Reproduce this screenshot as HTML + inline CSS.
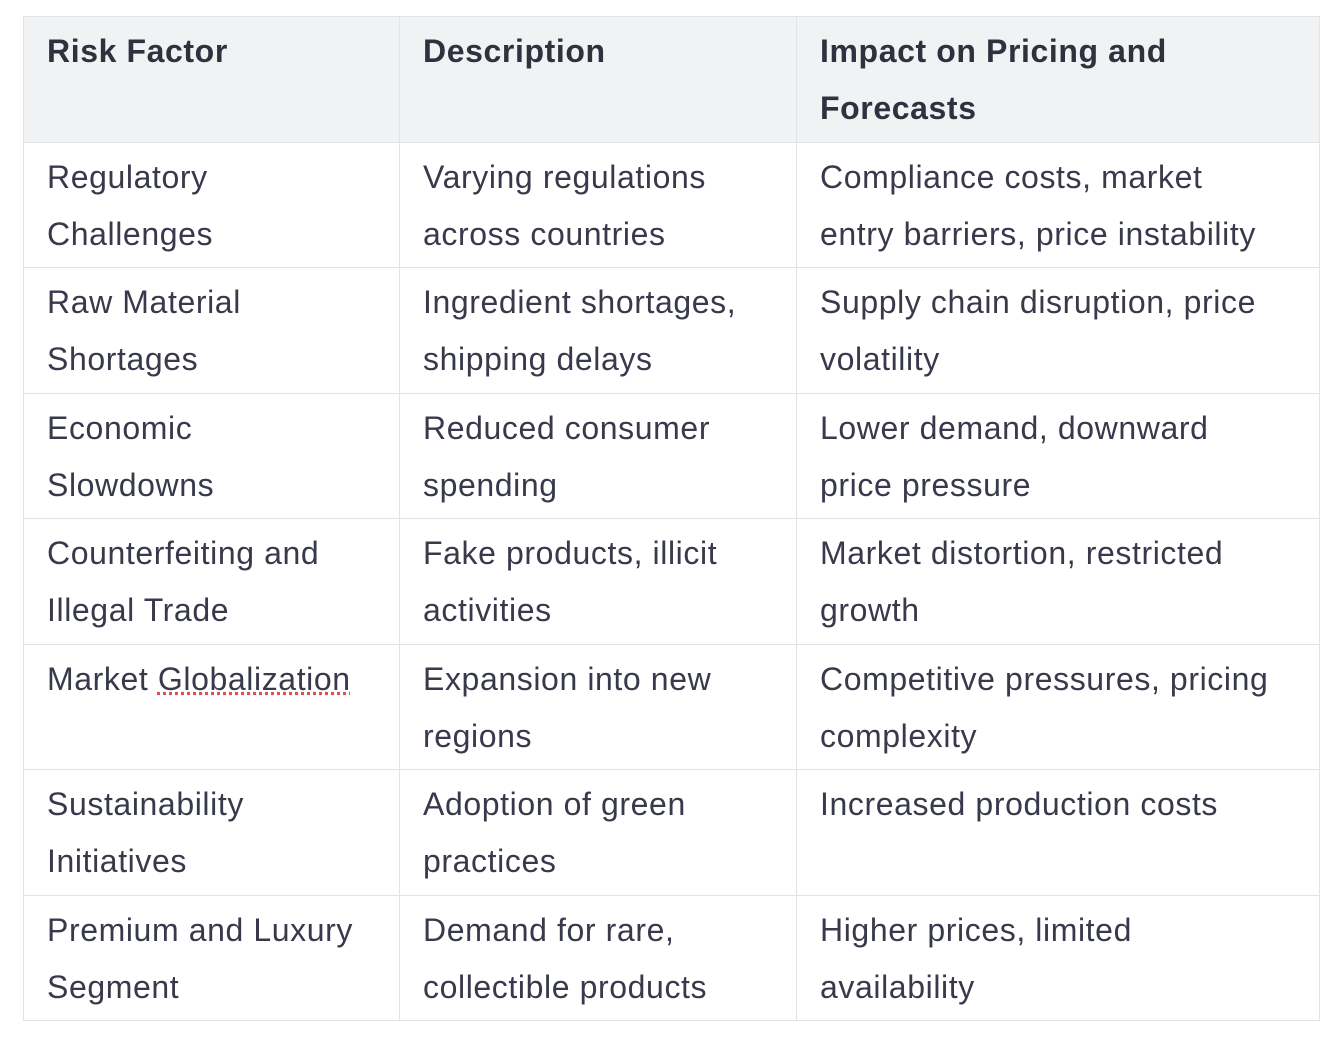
<!DOCTYPE html>
<html><head><meta charset="utf-8"><style>
html,body{margin:0;padding:0;background:#fff;width:1334px;height:1042px;overflow:hidden}
table{position:absolute;left:23px;top:16px;border-collapse:collapse;table-layout:fixed;width:1296px;
font-family:"Liberation Sans",sans-serif;font-size:32px;color:#383a4c;letter-spacing:0.6px}
td,th{border:1px solid #e2e3e6;padding:6px 23px 4px 23px;line-height:57px;vertical-align:top;text-align:left;white-space:nowrap;height:114.5px;box-sizing:border-box}
td,th{height:125.5px}
th{background:#f1f2f4;font-weight:bold;color:#30313f}
</style></head><body>
<table>
<colgroup><col style="width:376px"><col style="width:397px"><col style="width:523px"></colgroup>
<tr><th>Risk Factor</th><th>Description</th><th>Impact on Pricing and<br>Forecasts</th></tr>
<tr><td>Regulatory<br>Challenges</td><td>Varying regulations<br>across countries</td><td>Compliance costs, market<br>entry barriers, price instability</td></tr>
<tr><td>Raw Material<br>Shortages</td><td>Ingredient shortages,<br>shipping delays</td><td>Supply chain disruption, price<br>volatility</td></tr>
<tr><td>Economic<br>Slowdowns</td><td>Reduced consumer<br>spending</td><td>Lower demand, downward<br>price pressure</td></tr>
<tr><td>Counterfeiting and<br>Illegal Trade</td><td>Fake products, illicit<br>activities</td><td>Market distortion, restricted<br>growth</td></tr>
<tr><td>Market <span style="text-decoration:underline dotted #e05050">Globalization</span></td><td>Expansion into new<br>regions</td><td>Competitive pressures, pricing<br>complexity</td></tr>
<tr><td>Sustainability<br>Initiatives</td><td>Adoption of green<br>practices</td><td>Increased production costs</td></tr>
<tr><td>Premium and Luxury<br>Segment</td><td>Demand for rare,<br>collectible products</td><td>Higher prices, limited<br>availability</td></tr>
</table>
</body></html>
